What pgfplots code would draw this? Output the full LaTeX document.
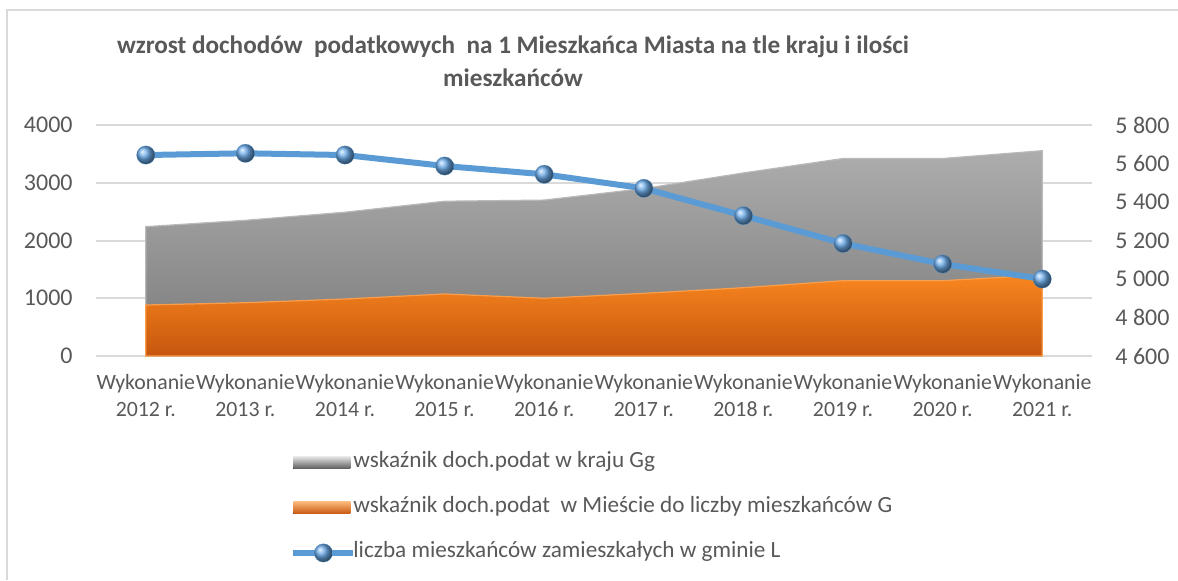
\documentclass[border=0pt]{standalone}
\usepackage{fontspec}
\setmainfont{Carlito}
\usepackage{pgfplots}
\pgfplotsset{compat=1.18}
\definecolor{txt}{HTML}{595959}
\definecolor{gridc}{HTML}{D9D9D9}
\definecolor{lblue}{HTML}{5B9BD5}
\definecolor{bblue}{HTML}{6AAAE8}
\definecolor{gtop}{HTML}{ADADAD}
\definecolor{gbot}{HTML}{7A7A7A}
\definecolor{otop}{HTML}{F8861F}
\definecolor{obot}{HTML}{C6560E}
\pgfplotsset{
  grayleg/.style={legend image code/.code={\fill[top color=gray!25, bottom color=gray!70!black, draw=none] (0pt,-3pt) rectangle (28.5pt,3pt);}},
  orangeleg/.style={legend image code/.code={\fill[top color=otop!60!white, bottom color=obot, draw=none] (0pt,-3pt) rectangle (28.5pt,3pt);}},
  lineleg/.style={legend image code/.code={\draw[##1,mark repeat=2,mark phase=2] plot coordinates {(0pt,0pt) (15pt,0pt) (30pt,0pt)};}},
}
\begin{document}
\begin{tikzpicture}
\useasboundingbox (0,0) rectangle (589pt,290pt);
\fill[white] (0,0) rectangle (589pt,290pt);
\draw[gridc, line width=1pt] (3.5pt,0) -- (3.5pt,285pt) -- (589pt,285pt);
\node[font=\bfseries\fontsize{12.6}{16.5}\selectfont, text=txt, align=center] at (256.5pt,259.5pt)
 {wzrost dochodów\ \ podatkowych\ \ na 1 Mieszkańca Miasta na tle kraju i ilości\\mieszkańców};
\begin{axis}[
  at={(48pt,112pt)}, anchor=south west,
  width=498pt, height=115.5pt, scale only axis,
  xmin=-0.5, xmax=9.5, ymin=0, ymax=4000,
  xtick={0,...,9},
  xticklabels={Wykonanie\\2012 r.,Wykonanie\\2013 r.,Wykonanie\\2014 r.,Wykonanie\\2015 r.,Wykonanie\\2016 r.,Wykonanie\\2017 r.,Wykonanie\\2018 r.,Wykonanie\\2019 r.,Wykonanie\\2020 r.,Wykonanie\\2021 r.},
  ytick={0,1000,2000,3000,4000},
  ymajorgrids, grid style={gridc, line width=1pt},
  axis line style={draw=none},
  major tick length=0,
  yticklabel style={font=\fontsize{12}{13.5}\selectfont, text=txt, inner sep=0pt, xshift=-11.5pt},
  xticklabel style={font=\fontsize{10.9}{13.5}\selectfont, text=txt, align=center, inner sep=0pt, yshift=-9.2pt},
  /pgf/number format/assume math mode=true,
  /pgf/number format/1000 sep={},
  scaled y ticks=false,
  legend style={at={(axis description cs:0.1948,-0.405)}, anchor=north west, draw=none, fill=none,
    inner sep=0pt, row sep=9.5pt, column sep=-3pt, font=\fontsize{11.6}{12}\selectfont, text=txt,
    nodes={inner sep=1.5pt, text height=7.5pt, text depth=2.5pt}},
  legend cell align=left,
]
\addplot[draw=gray!55, line width=0.6pt, top color=gtop, bottom color=gbot, grayleg]
 coordinates {(0,2240) (1,2350) (2,2490) (3,2680) (4,2700) (5,2900) (6,3170) (7,3420) (8,3420) (9,3555)} \closedcycle;
\addlegendentry{wskaźnik doch.podat w kraju Gg}
\addplot[draw=otop!80!white, line width=0.6pt, top color=otop, bottom color=obot, orangeleg]
 coordinates {(0,883) (1,923) (2,987) (3,1074) (4,1000) (5,1085) (6,1183) (7,1304) (8,1304) (9,1400)} \closedcycle;
\addlegendentry{wskaźnik doch.podat\ \ w Mieście do liczby mieszkańców G}
\addlegendimage{lblue, line width=3pt, mark=ball, mark size=4.6pt, mark options={ball color=bblue, line width=0.1pt, draw=lblue}, lineleg}
\addlegendentry{liczba mieszkańców zamieszkałych w gminie L}
\end{axis}
\begin{axis}[
  at={(48pt,112pt)}, anchor=south west,
  width=498pt, height=115.5pt, scale only axis,
  xmin=-0.5, xmax=9.5, ymin=4600, ymax=5800,
  axis x line=none, axis y line*=right,
  axis line style={draw=none},
  major tick length=0,
  ytick={4600,4800,5000,5200,5400,5600,5800},
  yticklabels={4 600,4 800,5 000,5 200,5 400,5 600,5 800},
  yticklabel style={font=\fontsize{12}{13.5}\selectfont, text=txt, inner sep=0pt, xshift=11.5pt, anchor=west},
]
\addplot[lblue, line width=3pt, mark=ball, mark size=4.6pt, mark options={ball color=bblue, line width=0.1pt, draw=lblue}]
 coordinates {(0,5644) (1,5653) (2,5644) (3,5587) (4,5544) (5,5471) (6,5329) (7,5185) (8,5078) (9,5000)};
\end{axis}
\end{tikzpicture}
\end{document}
